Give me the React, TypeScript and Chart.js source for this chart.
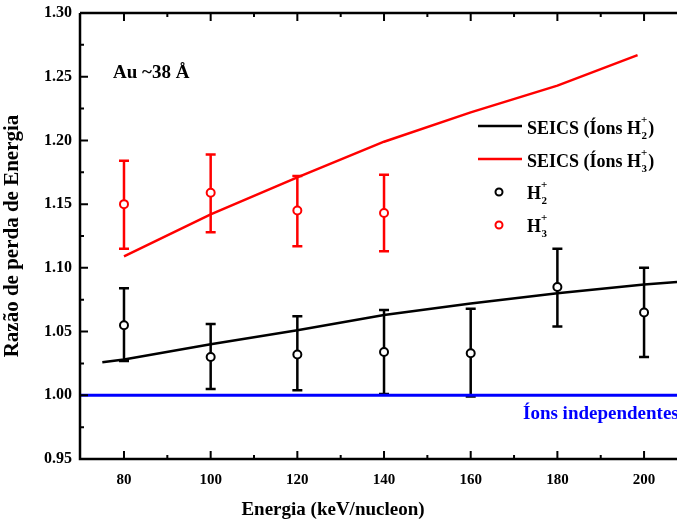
import React, { useEffect, useRef } from "react";
import { Chart, registerables } from "chart.js";

Chart.register(...registerables);

const energies = [80, 100, 120, 140, 160, 180, 200];
const h2Values = [1.055, 1.030, 1.032, 1.034, 1.033, 1.085, 1.065];
const h2Low = [1.027, 1.005, 1.004, 1.001, 0.999, 1.054, 1.030];
const h2High = [1.084, 1.056, 1.062, 1.067, 1.068, 1.115, 1.100];

const h3Energies = [80, 100, 120, 140];
const h3Values = [1.150, 1.159, 1.145, 1.143];
const h3Low = [1.115, 1.128, 1.117, 1.113];
const h3High = [1.184, 1.189, 1.172, 1.173];

const seicsH2X = [75, 80, 100, 120, 140, 160, 180, 200, 207.6];
const seicsH2Y = [1.026, 1.028, 1.040, 1.051, 1.063, 1.072, 1.080, 1.087, 1.089];
const seicsH3X = [80, 100, 120, 140, 160, 180, 198.5];
const seicsH3Y = [1.109, 1.142, 1.171, 1.199, 1.222, 1.243, 1.267];

const xMajorTicks = [80, 100, 120, 140, 160, 180, 200];
const xMinorTicks = [90, 110, 130, 150, 170, 190];
const yMajorTicks = [0.95, 1.0, 1.05, 1.1, 1.15, 1.2, 1.25, 1.3];
const yMinorTicks = [0.975, 1.025, 1.075, 1.125, 1.175, 1.225, 1.275];

const X_MIN = 69.85;
const X_MAX = 207.6;

const FONT = "'Liberation Serif', 'Times New Roman', serif";

const pts = (xs: number[], ys: number[]) => xs.map((x, i) => ({ x, y: ys[i] }));

export default function App() {
  const ref = useRef<HTMLCanvasElement>(null);

  useEffect(() => {
    const canvas = ref.current!;
    const overlay = {
      id: "overlay",
      beforeDatasetsDraw(chart: any) {
        const ctx = chart.ctx;
        const xs = chart.scales.x;
        const ys = chart.scales.y;
        const drawBars = (xv: number[], lo: number[], hi: number[], color: string) => {
          ctx.save();
          ctx.strokeStyle = color;
          ctx.lineWidth = 2.5;
          xv.forEach((x, i) => {
            const px = xs.getPixelForValue(x);
            const pl = ys.getPixelForValue(lo[i]);
            const ph = ys.getPixelForValue(hi[i]);
            ctx.beginPath();
            ctx.moveTo(px, pl);
            ctx.lineTo(px, ph);
            ctx.moveTo(px - 5, pl);
            ctx.lineTo(px + 5, pl);
            ctx.moveTo(px - 5, ph);
            ctx.lineTo(px + 5, ph);
            ctx.stroke();
          });
          ctx.restore();
        };
        drawBars(energies, h2Low, h2High, "#000");
        drawBars(h3Energies, h3Low, h3High, "#ff0000");
      },
      afterDraw(chart: any) {
        const ctx = chart.ctx;
        const xs = chart.scales.x;
        const ys = chart.scales.y;
        const a = chart.chartArea;
        ctx.save();
        // frame
        ctx.strokeStyle = "#000";
        ctx.lineWidth = 2.5;
        ctx.beginPath();
        ctx.moveTo(a.left, a.top);
        ctx.lineTo(a.right + 5, a.top);
        ctx.moveTo(a.left, a.top);
        ctx.lineTo(a.left, a.bottom);
        ctx.lineTo(a.right + 5, a.bottom);
        ctx.stroke();
        // ticks
        ctx.lineWidth = 2;
        ctx.beginPath();
        xMajorTicks.forEach((v) => {
          const px = xs.getPixelForValue(v);
          ctx.moveTo(px, a.bottom);
          ctx.lineTo(px, a.bottom - 8);
          ctx.moveTo(px, a.top);
          ctx.lineTo(px, a.top + 8);
        });
        xMinorTicks.forEach((v) => {
          const px = xs.getPixelForValue(v);
          ctx.moveTo(px, a.bottom);
          ctx.lineTo(px, a.bottom - 4);
          ctx.moveTo(px, a.top);
          ctx.lineTo(px, a.top + 4);
        });
        yMajorTicks.forEach((v) => {
          const py = ys.getPixelForValue(v);
          ctx.moveTo(a.left, py);
          ctx.lineTo(a.left + 8, py);
        });
        yMinorTicks.forEach((v) => {
          const py = ys.getPixelForValue(v);
          ctx.moveTo(a.left, py);
          ctx.lineTo(a.left + 4, py);
        });
        ctx.stroke();

        // x axis title
        ctx.fillStyle = "#000";
        ctx.font = `bold 19px ${FONT}`;
        ctx.textAlign = "center";
        ctx.textBaseline = "alphabetic";
        ctx.fillText("Energia (keV/nucleon)", 333, 515);

        // annotations
        ctx.textAlign = "left";
        ctx.font = `bold 19px ${FONT}`;
        ctx.fillText("Au ~38 Å", 113, 78);

        ctx.fillStyle = "#0000ff";
        ctx.font = `bold 19px ${FONT}`;
        ctx.fillText("Íons independentes", 523, 419);

        // legend
        const drawLabel = (x: number, y: number, prefix: string, sub: string, suffix: string) => {
          ctx.fillStyle = "#000";
          ctx.font = `bold 18px ${FONT}`;
          ctx.fillText(prefix, x, y);
          let w = ctx.measureText(prefix).width;
          ctx.font = `bold 11px ${FONT}`;
          ctx.fillText("+", x + w, y - 11);
          ctx.fillText(sub, x + w + 0.5, y + 5);
          w += Math.max(ctx.measureText("+").width, ctx.measureText(sub).width) + 1;
          ctx.font = `bold 18px ${FONT}`;
          if (suffix) ctx.fillText(suffix, x + w, y);
        };
        ctx.lineWidth = 2.5;
        ctx.strokeStyle = "#000";
        ctx.beginPath();
        ctx.moveTo(478, 126);
        ctx.lineTo(522, 126);
        ctx.stroke();
        drawLabel(527, 134, "SEICS (Íons H", "2", ")");
        ctx.strokeStyle = "#ff0000";
        ctx.beginPath();
        ctx.moveTo(478, 159);
        ctx.lineTo(522, 159);
        ctx.stroke();
        drawLabel(527, 167, "SEICS (Íons H", "3", ")");
        ctx.lineWidth = 2;
        ctx.fillStyle = "#fff";
        ctx.strokeStyle = "#000";
        ctx.beginPath();
        ctx.arc(499, 192, 3.5, 0, Math.PI * 2);
        ctx.fill();
        ctx.stroke();
        drawLabel(527, 199, "H", "2", "");
        ctx.fillStyle = "#fff";
        ctx.strokeStyle = "#ff0000";
        ctx.beginPath();
        ctx.arc(499, 225, 3.5, 0, Math.PI * 2);
        ctx.fill();
        ctx.stroke();
        drawLabel(527, 232, "H", "3", "");
        ctx.restore();
      },
    };

    const chart = new Chart(canvas, {
      type: "scatter",
      data: {
        datasets: [
          {
            label: "Íons independentes",
            data: [{ x: X_MIN, y: 1.0 }, { x: X_MAX, y: 1.0 }],
            showLine: true,
            borderColor: "#0000ff",
            borderWidth: 3,
            pointRadius: 0,
          },
          {
            label: "SEICS (Íons H2+)",
            data: pts(seicsH2X, seicsH2Y),
            showLine: true,
            borderColor: "#000",
            borderWidth: 2.5,
            pointRadius: 0,
          },
          {
            label: "SEICS (Íons H3+)",
            data: pts(seicsH3X, seicsH3Y),
            showLine: true,
            borderColor: "#ff0000",
            borderWidth: 2.5,
            pointRadius: 0,
          },
          {
            label: "H2+",
            data: pts(energies, h2Values),
            showLine: false,
            borderColor: "#000",
            backgroundColor: "#fff",
            borderWidth: 2,
            pointRadius: 4,
          },
          {
            label: "H3+",
            data: pts(h3Energies, h3Values),
            showLine: false,
            borderColor: "#ff0000",
            backgroundColor: "#fff",
            borderWidth: 2,
            pointRadius: 4,
          },
        ],
      },
      options: {
        animation: false,
        responsive: false,
        events: [],
        layout: { autoPadding: false, padding: { top: 13, right: 0, left: 0, bottom: 0 } },
        plugins: { legend: { display: false }, tooltip: { enabled: false } },
        scales: {
          x: {
            type: "linear",
            min: X_MIN,
            max: X_MAX,
            grid: { display: false, drawTicks: false },
            border: { display: false },
            afterBuildTicks: (s: any) => {
              s.ticks = xMajorTicks.map((v) => ({ value: v }));
            },
            afterFit: (s: any) => {
              s.height = 66;
              s.paddingLeft = 0;
              s.paddingRight = 0;
            },
            ticks: {
              color: "#000",
              font: { family: FONT, size: 15, weight: "bold" },
              padding: 12,
              maxRotation: 0,
              callback: (v: any) => String(v),
            },
            title: { display: false },
          },
          y: {
            type: "linear",
            min: 0.95,
            max: 1.3,
            grid: { display: false, drawTicks: false },
            border: { display: false },
            afterBuildTicks: (s: any) => {
              s.ticks = yMajorTicks.map((v) => ({ value: v }));
            },
            afterFit: (s: any) => {
              s.width = 80;
              s.paddingTop = 0;
              s.paddingBottom = 0;
            },
            ticks: {
              color: "#000",
              font: { family: FONT, size: 16, weight: "bold" },
              padding: 8,
              callback: (v: any) => Number(v).toFixed(2),
            },
            title: {
              display: true,
              text: "Razão de perda de Energia",
              color: "#000",
              font: { family: FONT, size: 21, weight: "bold" },
              padding: { top: 0, bottom: 2 },
            },
          },
        },
      },
      plugins: [overlay],
    } as any);
    return () => chart.destroy();
  }, []);

  return (
    <div style={{ position: "fixed", left: 0, top: 0, width: 677, height: 525, background: "#fff" }}>
      <canvas ref={ref} width={677} height={525} />
    </div>
  );
}
